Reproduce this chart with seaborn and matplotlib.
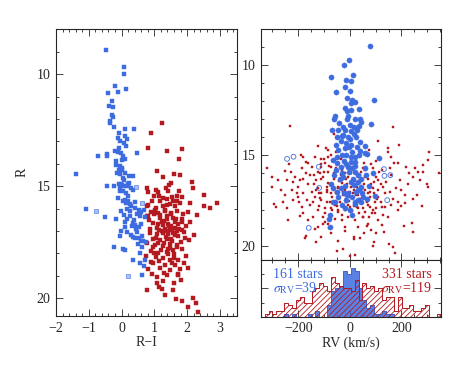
"""Colour-magnitude and radial-velocity panels for a two-population field."""

import matplotlib

matplotlib.use("Agg")
import matplotlib.pyplot as plt
import pandas as pd
import seaborn as sns
from matplotlib.ticker import MultipleLocator, NullFormatter

BLUE = "#3d6be0"
RED = "#b3191f"

# left panel: (R-I, R) for the blue population
cmd_blue = [
    (-0.48, 8.92), (0.07, 9.67), (0.08, 10.0), (-0.21, 10.55), (0.14, 10.65),
    (-0.40, 10.85), (-0.11, 10.79), (-0.30, 11.22), (-0.38, 11.41), (-0.26, 11.49),
    (-0.28, 11.81), (-0.27, 11.93), (-0.36, 12.08), (-0.35, 12.2), (-0.23, 12.36),
    (0.09, 12.44), (0.37, 12.44), (-0.09, 12.63), (-0.11, 12.84), (0.10, 12.75),
    (-0.05, 12.99), (0.06, 13.08), (0.12, 13.22), (-0.20, 13.45), (-0.10, 13.49),
    (-0.02, 13.52), (0.05, 13.64), (0.46, 13.52), (-0.73, 13.64), (-0.45, 13.64),
    (-0.43, 13.57), (0.01, 13.82), (0.09, 13.79), (-0.05, 14.12), (-0.16, 14.07),
    (0.01, 14.19), (-0.08, 14.29), (-0.14, 14.41), (-0.04, 14.44), (0.10, 14.41),
    (-1.39, 14.44), (0.24, 14.56), (0.36, 14.56), (0.05, 14.62), (0.08, 14.74),
    (-0.09, 14.89), (0.01, 14.95), (-0.44, 15.0), (-0.22, 15.0), (-0.05, 15.08),
    (0.06, 15.0), (0.15, 15.0), (0.23, 14.86), (0.30, 15.08), (0.36, 15.19),
    (-0.05, 15.22), (0.05, 15.22), (-0.12, 15.54), (0.10, 15.6), (0.21, 15.66),
    (0.13, 15.75), (0.25, 15.82), (0.40, 15.72), (-1.08, 16.02), (0.17, 16.02),
    (0.40, 15.97), (0.52, 16.05), (0.60, 16.17), (0.67, 16.08), (0.08, 16.27),
    (0.27, 16.34), (0.46, 16.23), (0.55, 16.34), (-0.50, 16.39), (-0.16, 16.49),
    (0.15, 16.49), (0.34, 16.64), (0.11, 16.82), (0.32, 16.79), (0.40, 16.73),
    (0.59, 16.67), (-0.02, 17.01), (0.16, 17.06), (0.46, 17.03), (0.53, 16.82),
    (-0.05, 17.24), (0.36, 17.27), (0.41, 17.31), (0.54, 17.30), (0.63, 17.24),
    (0.66, 17.46), (0.73, 17.50), (0.58, 17.46), (-0.24, 17.73), (0.05, 17.83),
    (0.11, 17.85), (0.36, 18.31), (0.56, 18.43), (0.72, 18.28), (0.69, 18.57),
    (0.61, 18.97), (-0.02, 14.9), (0.12, 15.3), (0.20, 15.45), (0.03, 15.65),
    (0.25, 16.1), (0.10, 16.6), (0.45, 16.9), (0.30, 17.2), (0.50, 17.6),
    (0.62, 17.7), (0.70, 16.4), (0.55, 18.0), (-0.08, 13.3), (0.15, 12.9),
    (-0.18, 13.9), (0.02, 14.3), (0.20, 14.9), (0.30, 15.9), (-0.03, 16.1),
    (0.38, 16.5),
]
# open symbols in the left panel
cmd_blue_open = [(0.44, 15.05), (0.63, 15.75), (-0.79, 16.11), (0.20, 19.03)]

# left panel: (R-I, R) for the red population
cmd_red = [
    (1.24, 12.2), (0.91, 12.64), (0.80, 13.28), (1.40, 13.45), (1.85, 13.34),
    (1.74, 13.79), (1.07, 14.34), (1.26, 14.59), (1.60, 14.44), (1.78, 14.51),
    (1.50, 14.86), (2.16, 14.81), (2.19, 15.08), (2.50, 15.41), (2.51, 15.91),
    (2.70, 15.97), (2.92, 15.74), (2.08, 15.74), (0.76, 15.10), (0.81, 15.27),
    (1.05, 15.19), (1.35, 15.08), (1.42, 15.2), (1.74, 15.22), (1.83, 15.48),
    (1.13, 15.42), (1.68, 15.42), (0.92, 15.68), (1.17, 15.68), (1.37, 15.57),
    (1.57, 15.68), (0.77, 15.90), (1.05, 15.97), (1.25, 15.90), (1.47, 15.82),
    (1.62, 15.90), (1.78, 15.75), (0.91, 16.17), (1.12, 16.2), (1.32, 16.12),
    (1.52, 16.2), (1.68, 16.12), (2.03, 16.17), (0.82, 16.34), (1.17, 16.42),
    (1.37, 16.46), (1.57, 16.42), (1.83, 16.49), (0.97, 16.64), (1.24, 16.61),
    (1.42, 16.67), (1.52, 16.76), (1.73, 16.67), (1.95, 16.76), (1.09, 16.86),
    (1.32, 16.91), (1.48, 16.97), (1.63, 16.88), (1.83, 16.94), (0.86, 17.09),
    (1.07, 17.12), (1.27, 17.09), (1.42, 17.16), (1.57, 17.09), (1.73, 17.24),
    (1.93, 17.31), (0.97, 17.38), (1.17, 17.41), (1.37, 17.38), (1.55, 17.46),
    (1.80, 17.50), (0.76, 17.56), (1.02, 17.65), (1.27, 17.68), (1.47, 17.76),
    (1.68, 17.71), (0.91, 17.91), (1.12, 17.98), (1.37, 17.95), (1.60, 18.01),
    (1.85, 17.83), (0.74, 18.10), (1.05, 18.16), (1.25, 18.20), (1.49, 18.31),
    (1.72, 18.28), (0.97, 18.43), (1.32, 18.54), (1.63, 18.51), (1.91, 18.43),
    (0.81, 18.69), (1.17, 18.65), (1.47, 18.75), (1.78, 18.69), (2.03, 18.65),
    (0.94, 18.94), (1.37, 18.99), (1.73, 18.94), (1.07, 19.32), (1.27, 19.24),
    (1.15, 19.5), (1.60, 19.32), (1.32, 19.84), (0.79, 19.64), (1.56, 19.64),
    (1.66, 20.06), (1.83, 20.13), (2.19, 19.99), (2.28, 20.21), (2.04, 20.39),
    (2.33, 20.6), (1.02, 16.05), (1.18, 16.28), (1.28, 16.55), (1.40, 16.35),
    (1.45, 16.8), (1.55, 16.95), (1.62, 17.2), (1.35, 17.25), (1.22, 17.0),
    (1.10, 16.7), (1.05, 17.3), (1.30, 17.55), (1.48, 17.6), (1.58, 17.85),
    (1.20, 17.85), (0.95, 17.7), (0.88, 16.9), (0.85, 16.5), (1.65, 16.45),
    (1.75, 16.9), (1.70, 17.65), (1.90, 17.05), (2.05, 17.4), (1.42, 18.05),
    (1.15, 18.35), (1.55, 18.45), (1.30, 18.9), (0.90, 18.4), (1.00, 15.45),
    (1.25, 15.55), (1.55, 15.5), (1.38, 15.85), (1.68, 15.65), (0.82, 15.85),
    (1.10, 15.25), (1.45, 14.95), (1.88, 16.25), (2.10, 16.6), (1.95, 18.1),
    (1.72, 18.95), (1.08, 19.05), (0.78, 16.35), (1.33, 16.05), (1.50, 16.25),
    (1.62, 16.6), (1.27, 16.75), (1.38, 17.0), (1.50, 17.35), (1.12, 17.55),
    (1.42, 17.8), (1.00, 18.0), (1.60, 18.2), (2.20, 17.2), (2.30, 16.3),
    (1.80, 19.2), (1.22, 19.6), (0.98, 16.25), (1.15, 16.95), (1.70, 17.0),
    (1.85, 16.6),
]

# right panel: (RV km/s, R) for the blue population
rv_blue = [
    (80, 8.91), (-4, 9.69), (-23, 10.0), (12, 10.56), (-71, 10.65), (-13, 10.81),
    (5, 10.85), (-18, 11.22), (1, 11.41), (-52, 11.46), (94, 11.93), (-9, 11.81),
    (9, 11.93), (22, 12.06), (5, 12.11), (-17, 12.35), (34, 12.44), (6, 12.48),
    (-12, 12.54), (-59, 12.80), (-8, 12.80), (38, 12.96), (-63, 13.0), (22, 12.98),
    (44, 13.13), (81, 13.28), (0, 13.3), (-28, 13.41), (34, 13.37), (-68, 13.59),
    (-44, 13.56), (-19, 13.59), (6, 13.67), (26, 13.59), (-48, 13.96), (-27, 13.87),
    (-6, 14.0), (15, 13.81), (-34, 14.19), (-13, 14.33), (6, 14.43), (-53, 14.44),
    (40, 14.24), (28, 14.55), (-4, 14.55), (57, 14.89), (68, 14.94), (39, 14.78),
    (114, 15.13), (-48, 15.11), (-30, 14.98), (-13, 14.98), (6, 15.07), (19, 15.11),
    (-64, 15.26), (-22, 15.30), (3, 15.35), (22, 15.35), (-6, 15.63), (9, 15.72),
    (58, 15.69), (-36, 15.63), (-54, 15.81), (-62, 16.09), (-32, 16.0), (19, 15.91),
    (32, 16.09), (90, 15.96), (63, 16.09), (-74, 16.59), (-39, 16.33), (13, 16.33),
    (30, 16.46), (-17, 16.69), (15, 16.65), (45, 16.74), (-50, 17.02), (-23, 17.11),
    (-6, 17.07), (25, 17.02), (49, 17.11), (99, 17.24), (-44, 17.3), (10, 17.33),
    (32, 17.48), (68, 17.39), (-13, 17.48), (-67, 17.57), (21, 17.57), (-32, 17.76),
    (43, 17.57), (9, 18.30), (-75, 18.33), (-80, 18.52), (-76, 18.98), (-59, 17.56),
    (-40, 13.2), (-10, 13.0), (15, 13.4), (-30, 13.9), (0, 14.1), (25, 14.0),
    (-20, 14.6), (10, 14.8), (-45, 14.7), (35, 15.0), (-15, 15.5), (20, 15.6),
    (-5, 15.9), (-25, 16.2), (45, 16.3), (5, 16.5), (-35, 16.8), (30, 16.9),
    (-10, 17.2), (50, 17.3), (-50, 15.4), (60, 14.5), (-65, 16.8), (75, 16.7),
    (20, 17.7), (0, 18.0), (-20, 17.9),
]
# open circles in the right panel
rv_blue_open = [
    (-243, 15.19), (-218, 15.07), (-120, 15.63), (-119, 16.80), (-159, 19.02),
    (132, 15.76), (134, 16.13), (157, 16.09), (145, 17.48),
]

# right panel: (RV km/s, R) for the red population
rv_red = [
    (-232, 13.35), (168, 13.44), (192, 14.44), (-319, 15.70), (-250, 15.85),
    (-183, 16.28), (-225, 16.93), (-293, 17.69), (-244, 17.89), (-197, 17.61),
    (-194, 18.37), (-174, 19.57), (-168, 19.46), (305, 14.83), (345, 15.96),
    (303, 16.74), (281, 17.80), (239, 18.76), (245, 19.24), (166, 20.07),
    (175, 20.39), (22, 20.54), (-28, 20.17), (-45, 19.74), (15, 19.52),
    (54, 19.33), (94, 19.80), (90, 20.02), (133, 19.26), (17, 19.65),
    (-123, 18.96), (-103, 18.81), (-71, 19.33), (-19, 18.96), (71, 18.78),
    (110, 18.56), (148, 18.41), (187, 18.04), (213, 17.63), (245, 17.44),
    (168, 17.39), (135, 17.11), (200, 16.93), (226, 16.56), (245, 16.19),
    (265, 15.91), (219, 15.63), (161, 15.07), (148, 14.56), (148, 14.8),
    (103, 15.3), (84, 15.48), (129, 16.74), (110, 16.37), (84, 16.56),
    (58, 16.19), (71, 17.11), (97, 17.57), (77, 17.85), (52, 18.41),
    (19, 18.59), (-6, 18.41), (-32, 18.59), (-45, 18.13), (-71, 17.94),
    (-97, 18.22), (-123, 18.04), (-142, 18.41), (-161, 18.59), (-110, 17.48),
    (-135, 17.30), (-148, 17.02), (-164, 17.48), (-181, 17.11), (-200, 16.74),
    (-206, 17.11), (-161, 16.56), (-129, 16.37), (-103, 16.19), (-84, 15.91),
    (-123, 15.91), (-148, 15.63), (-168, 15.35), (-110, 15.17), (-71, 14.98),
    (-84, 14.70), (-52, 14.80), (-93, 14.61), (-135, 15.07), (-58, 16.19),
    (-32, 16.52), (-6, 16.19), (6, 16.74), (32, 16.19), (52, 15.72),
    (-71, 17.11), (-32, 16.83), (-13, 17.39), (32, 17.20), (0, 17.85),
    (-19, 18.04), (58, 18.13), (97, 18.22), (135, 17.85), (161, 17.76),
    (187, 17.57), (213, 17.20), (194, 16.37), (161, 16.09), (123, 15.81),
    (155, 15.72), (187, 15.44), (252, 15.72), (271, 16.37), (303, 15.26),
    (284, 15.54), (-90, 16.74), (-110, 17.11), (-90, 17.57), (-58, 17.76),
    (-58, 18.50), (-84, 18.78), (-142, 17.57), (-187, 17.85), (-219, 17.48),
    (-265, 16.93), (-277, 16.37), (-213, 16.19), (-187, 15.72), (-226, 15.91),
    (-155, 16.09), (-181, 15.07), (-71, 15.63), (-45, 15.44), (-97, 15.44),
    (-123, 16.83), (-155, 17.76), (-135, 19.06), (-110, 19.52), (32, 18.96),
    (84, 19.15), (123, 18.87), (65, 17.57), (110, 17.30), (90, 16.83),
    (45, 16.93), (26, 16.74), (13, 17.11), (-26, 17.20), (-45, 16.74),
    (-52, 17.11), (-39, 17.57), (-6, 17.76), (26, 17.85), (52, 17.94),
    (-110, 15.63), (-138, 16.09), (-194, 16.37), (-245, 16.37), (-258, 17.57),
    (-284, 17.85), (-303, 16.74), (-100, 15.9), (-60, 16.3), (-20, 16.0),
    (20, 16.4), (60, 15.8), (100, 16.2), (140, 16.5), (-140, 16.6),
    (-90, 17.0), (-40, 17.3), (0, 17.0), (40, 17.4), (80, 17.0),
    (120, 17.6), (-120, 17.8), (-70, 18.0), (-30, 18.3), (10, 18.1),
    (50, 18.4), (90, 18.0), (130, 18.3), (-180, 18.2), (-200, 17.3),
    (-220, 16.5), (180, 16.8), (200, 17.8), (-160, 15.4), (-110, 15.5),
    (170, 15.4), (230, 16.0), (-250, 17.2), (260, 17.2), (-80, 19.0),
    (-20, 19.2), (40, 19.6), (100, 19.3), (-50, 20.3), (150, 19.9),
    (-300, 16.2), (300, 16.6), (-5, 15.6), (-35, 15.2), (25, 15.1),
    (75, 14.7), (-125, 14.5), (-190, 15.0), (110, 14.2), (-60, 13.8),
    (-95, 18.7), (65, 18.9), (-15, 17.6), (30, 17.9), (-55, 17.0),
    (55, 16.6), (-170, 16.0), (155, 17.0), (-240, 18.6), (210, 18.9),
    (-130, 19.8), (0, 20.6), (-235, 15.5), (285, 15.9), (-85, 16.55),
    (95, 16.5), (-45, 16.8), (15, 16.9), (-115, 17.35), (125, 17.85),
    (-75, 17.6), (70, 17.75),
    # core stars mostly hidden behind the blue circles
    (-100, 15.2), (-80, 15.6), (-60, 16.0), (-40, 16.4), (-20, 16.9),
    (0, 17.3), (20, 17.6), (40, 16.1), (60, 16.9), (80, 17.3),
    (100, 17.9), (-110, 16.3), (-90, 16.9), (-70, 17.3), (-50, 17.8),
    (-30, 15.8), (-10, 16.6), (10, 15.4), (30, 16.6), (50, 17.1),
    (70, 16.3), (90, 15.7), (110, 16.9), (-120, 17.1), (-95, 17.9),
    (-65, 15.3), (-35, 16.1), (-5, 17.5), (25, 17.2), (55, 15.4),
    (85, 18.2), (115, 15.9), (-105, 18.4), (-75, 16.6), (-45, 18.0),
    (-15, 16.3), (15, 17.8), (45, 15.9), (75, 18.4), (105, 17.4),
    (-130, 16.9), (-85, 15.1), (-25, 17.0), (35, 18.2), (95, 17.1),
    (-55, 15.7), (5, 16.0), (65, 17.5), (-115, 16.0), (120, 16.6),
]

n_blue_label = "161 stars"
n_red_label = "331 stars"
sigma_blue_label = r"$\sigma_{\rm RV}$=39"
sigma_red_label = r"$\sigma_{\rm RV}$=119"


def to_df(points, cols):
    return pd.DataFrame(points, columns=cols)


def style_axes(ax):
    ax.tick_params(which="both", direction="in", top=True, right=True,
                   width=0.6, labelsize=10, pad=4)
    ax.tick_params(which="major", length=5)
    ax.tick_params(which="minor", length=2.5)
    for spine in ax.spines.values():
        spine.set_linewidth(0.8)


sns.set_style("ticks")
plt.rcParams["font.family"] = ["Liberation Serif", "DejaVu Serif"]
plt.rcParams["mathtext.fontset"] = "stix"
plt.rcParams["hatch.color"] = RED
plt.rcParams["hatch.linewidth"] = 0.6

fig = plt.figure(figsize=(4.73, 3.65), dpi=100)
ax_cmd = fig.add_axes([0.1184, 0.1342, 0.3827, 0.7855])
ax_rv = fig.add_axes([0.5512, 0.2877, 0.3805, 0.632])
ax_hist = fig.add_axes([0.5512, 0.1323, 0.3805, 0.1554])

# Left: colour-magnitude diagram
cmd_b = to_df(cmd_blue, ["ri", "R"])
cmd_bo = to_df(cmd_blue_open, ["ri", "R"])
cmd_r = to_df(cmd_red, ["ri", "R"])
sns.scatterplot(data=cmd_r, x="ri", y="R", ax=ax_cmd, marker="s", s=5,
                color=RED, edgecolor=RED, linewidth=0.3)
sns.scatterplot(data=cmd_b, x="ri", y="R", ax=ax_cmd, marker="s", s=5,
                color=BLUE, edgecolor=BLUE, linewidth=0.3)
sns.scatterplot(data=cmd_bo, x="ri", y="R", ax=ax_cmd, marker="s", s=5,
                color="#aebff0", edgecolor=BLUE, linewidth=0.4)
ax_cmd.set_xlim(-2, 3.52)
ax_cmd.set_ylim(20.8, 8.0)
ax_cmd.xaxis.set_major_locator(MultipleLocator(1))
ax_cmd.xaxis.set_minor_locator(MultipleLocator(0.2))
ax_cmd.yaxis.set_major_locator(MultipleLocator(5))
ax_cmd.yaxis.set_minor_locator(MultipleLocator(1))
ax_cmd.set_xlabel("R\u2212I", fontsize=10, labelpad=1)
ax_cmd.set_ylabel("R", fontsize=10, labelpad=6)
style_axes(ax_cmd)

# Right top: RV vs magnitude
rv_b = to_df(rv_blue, ["rv", "R"])
rv_bo = to_df(rv_blue_open, ["rv", "R"])
rv_r = to_df(rv_red, ["rv", "R"])
sns.scatterplot(data=rv_r, x="rv", y="R", ax=ax_rv, marker="s", s=4,
                color=RED, edgecolor=RED, linewidth=0.3)
sns.scatterplot(data=rv_b, x="rv", y="R", ax=ax_rv, marker="o", s=14,
                color=BLUE, edgecolor=BLUE, linewidth=0.3)
sns.scatterplot(data=rv_bo, x="rv", y="R", ax=ax_rv, marker="o", s=12,
                color=BLUE, facecolor="none", edgecolor=BLUE, linewidth=0.6)
ax_rv.set_xlim(-345, 352)
ax_rv.set_ylim(20.8, 8.0)
ax_rv.xaxis.set_major_locator(MultipleLocator(200))
ax_rv.xaxis.set_minor_locator(MultipleLocator(50))
ax_rv.xaxis.set_major_formatter(NullFormatter())
ax_rv.yaxis.set_major_locator(MultipleLocator(5))
ax_rv.yaxis.set_minor_locator(MultipleLocator(1))
ax_rv.set_xlabel("")
ax_rv.set_ylabel("")
style_axes(ax_rv)

# Right bottom: RV histograms (blue filled, red hatched on top)
blue_all = pd.concat([rv_b, rv_bo], ignore_index=True)
sns.histplot(data=blue_all, x="rv", ax=ax_hist, binwidth=15, binrange=(-345, 352),
             element="step", fill=True, color=BLUE, alpha=0.85,
             edgecolor="#2d55c8", linewidth=0.6)
blue_top = ax_hist.get_ylim()[1]
sns.histplot(data=rv_r, x="rv", ax=ax_hist, binwidth=15, binrange=(-345, 352),
             element="step", fill=True, color=RED, facecolor="none",
             edgecolor=RED, hatch="//////", linewidth=0.7)
ax_hist.set_ylim(0, blue_top * 1.12)
ax_hist.set_xlim(-345, 352)
ax_hist.xaxis.set_major_locator(MultipleLocator(200))
ax_hist.xaxis.set_minor_locator(MultipleLocator(50))
ax_hist.yaxis.set_major_locator(MultipleLocator(10))
ax_hist.yaxis.set_minor_locator(MultipleLocator(5))
ax_hist.yaxis.set_major_formatter(NullFormatter())
ax_hist.set_ylabel("")
ax_hist.set_xlabel("RV (km/s)", fontsize=10, labelpad=1)
style_axes(ax_hist)

ax_hist.text(0.07, 0.75, n_blue_label, transform=ax_hist.transAxes,
             color=BLUE, fontsize=10, va="center", ha="left")
ax_hist.text(0.07, 0.50, sigma_blue_label, transform=ax_hist.transAxes,
             color=BLUE, fontsize=10, va="center", ha="left")
ax_hist.text(0.95, 0.75, n_red_label, transform=ax_hist.transAxes,
             color=RED, fontsize=10, va="center", ha="right")
ax_hist.text(0.95, 0.50, sigma_red_label, transform=ax_hist.transAxes,
             color=RED, fontsize=10, va="center", ha="right")

fig.savefig("out.png", dpi=100)
